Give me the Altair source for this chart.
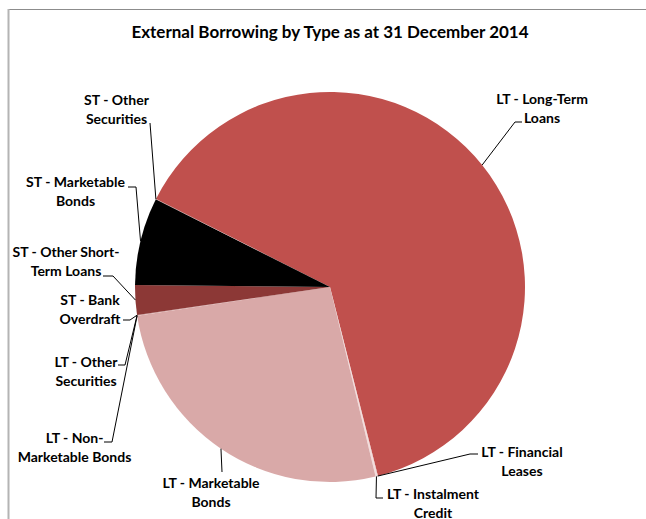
import math
import altair as alt
import pandas as pd

# ---- data ----
categories = [
    "LT - Long-Term Loans", "LT - Financial Leases", "LT - Instalment Credit",
    "LT - Marketable Bonds", "LT - Non-Marketable Bonds", "LT - Other Securities",
    "ST - Bank Overdraft", "ST - Other Short-Term Loans", "ST - Marketable Bonds",
    "ST - Other Securities",
]
shares = [63.78, 0.05, 0.15, 26.47, 0.02, 0.02, 0.02, 2.47, 7.28, 0.02]
label_lines = [
    "LT - Long-Term\nLoans", "LT - Financial\nLeases", "LT - Instalment\nCredit",
    "LT - Marketable\nBonds", "LT - Non-\nMarketable Bonds", "LT - Other\nSecurities",
    "ST - Bank\nOverdraft", "ST - Other Short-\nTerm Loans", "ST - Marketable\nBonds",
    "ST - Other\nSecurities",
]
colors = ["#C0504D", "#E6B9B8", "#F2DCDB", "#D9A9A8", "#E6B9B8", "#D9A9A8",
          "#8C3836", "#8C3836", "#000000", "#E6B9B8"]
title_text = "External Borrowing by Type as at 31 December 2014"

# ---- layout ----
W, H = 646, 519
CX, CY, R = 330, 287, 195
START_DEG = 296.8
FONT = "Lato"
# label anchor (centre x, first-line centre y) and leader start points near label
label_pos = [(542, 99), (522, 452), (433, 494), (211, 483), (74.5, 438),
             (86, 362), (90, 300), (66, 252), (75.5, 182), (116.5, 100)]
leader_start = [
    [(522, 122), (515, 122)],
    [(478, 454), (470, 454)],
    [(383, 498), (376, 498)],
    [(222, 472)],
    [(104, 442), (112, 442)],
    [(118, 365), (125, 365)],
    [(123, 320), (130, 320)],
    [(103, 276), (113, 276)],
    [(128, 187), (136, 187)],
    [(150, 123)],
]

total = sum(shares)
t0, t1, mids = [], [], []
acc = math.radians(START_DEG)
for s in shares:
    a = s / total * 2 * math.pi
    t0.append(acc)
    t1.append(acc + a)
    mids.append(acc + a / 2)
    acc += a

pie_df = pd.DataFrame({"cat": categories, "t0": t0, "t1": t1, "color": colors,
                       "order": list(range(len(categories)))})

lab_rows = []
for lbl, (lx, ly) in zip(label_lines, label_pos):
    lab_rows.append({"text": lbl, "x": lx, "y": ly + 5})
lab_df = pd.DataFrame(lab_rows)

lead_rows = []
for i, (pts, m) in enumerate(zip(leader_start, mids)):
    ex = CX + R * math.sin(m)
    ey = CY - R * math.cos(m)
    allpts = list(pts) + [(ex, ey)]
    for j, (px, py) in enumerate(allpts):
        lead_rows.append({"id": i, "k": j, "x": px, "y": py})
lead_df = pd.DataFrame(lead_rows)

xs = alt.Scale(domain=[0, W], nice=False, zero=False)
ys = alt.Scale(domain=[0, H], nice=False, zero=False, reverse=True)

pie = alt.Chart(pie_df).mark_arc(outerRadius=R, stroke=None).encode(
    theta=alt.Theta("t0:Q", scale=None),
    theta2="t1:Q",
    color=alt.Color("color:N", scale=None),
    x=alt.value(CX),
    y=alt.value(CY),
)

leaders = alt.Chart(lead_df).mark_line(color="black", strokeWidth=1).encode(
    x=alt.X("x:Q", scale=xs, axis=None),
    y=alt.Y("y:Q", scale=ys, axis=None),
    detail="id:N",
    order="k:Q",
)

labels = alt.Chart(lab_df).mark_text(
    font=FONT, fontSize=14, fontWeight="bold", color="black",
    align="center", baseline="alphabetic", lineBreak="\n", lineHeight=18.5,
).encode(
    x=alt.X("x:Q", scale=xs, axis=None),
    y=alt.Y("y:Q", scale=ys, axis=None),
    text="text:N",
)

title = alt.Chart(pd.DataFrame({"t": [title_text]})).mark_text(
    font=FONT, fontSize=17, fontWeight="bold", color="black",
    align="center", baseline="middle",
).encode(x=alt.value(330), y=alt.value(33), text="t:N")

border_top = alt.Chart(pd.DataFrame({"a": [0]})).mark_rule(
    color="#8c8c8c", strokeWidth=1).encode(
    x=alt.value(8), x2=alt.value(W), y=alt.value(9.5))
border_left = alt.Chart(pd.DataFrame({"a": [0]})).mark_rule(
    color="#b4b4b4", strokeWidth=2).encode(
    x=alt.value(8.5), y=alt.value(9), y2=alt.value(H))

chart = alt.layer(border_top, border_left, pie, leaders, labels, title).properties(
    width=W, height=H, padding=0, autosize=alt.AutoSizeParams(type="none"),
    background="white",
).configure_view(stroke=None)

chart.save("out.html", embed_options={"renderer": "svg", "actions": False})
